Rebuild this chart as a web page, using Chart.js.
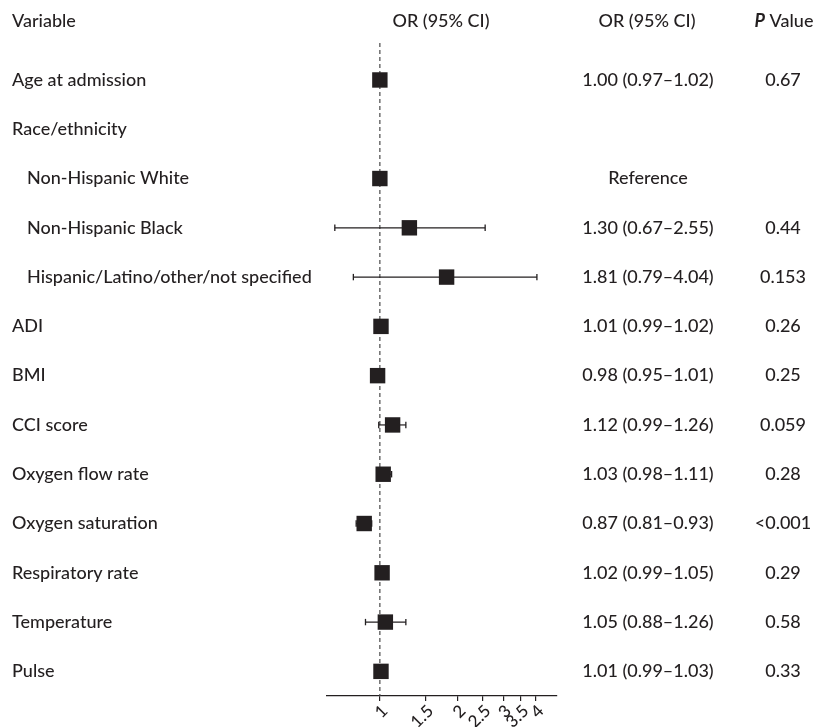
<!DOCTYPE html>
<html>
<head>
<meta charset="utf-8">
<script src="https://cdn.jsdelivr.net/npm/chart.js@4"></script>
<style>
  body { margin: 0; background: #fff; }
</style>
</head>
<body>
<canvas id="forest" width="815" height="727"></canvas>
<script>
// rows of the table, top to bottom
var rowLabels = ['Age at admission', 'Race/ethnicity', 'Non-Hispanic White', 'Non-Hispanic Black',
  'Hispanic/Latino/other/not specified', 'ADI', 'BMI', 'CCI score', 'Oxygen flow rate',
  'Oxygen saturation', 'Respiratory rate', 'Temperature', 'Pulse'];
var rowIndent = [0, 0, 1, 1, 1, 0, 0, 0, 0, 0, 0, 0, 0];
var oddsRatio = [1.00, null, 1.00, 1.30, 1.81, 1.01, 0.98, 1.12, 1.03, 0.87, 1.02, 1.05, 1.01];
var ciLow = [0.97, null, null, 0.67, 0.79, 0.99, 0.95, 0.99, 0.98, 0.81, 0.99, 0.88, 0.99];
var ciHigh = [1.02, null, null, 2.55, 4.04, 1.02, 1.01, 1.26, 1.11, 0.93, 1.05, 1.26, 1.03];
var orText = ['1.00 (0.97\u20131.02)', '', 'Reference', '1.30 (0.67\u20132.55)', '1.81 (0.79\u20134.04)',
  '1.01 (0.99\u20131.02)', '0.98 (0.95\u20131.01)', '1.12 (0.99\u20131.26)', '1.03 (0.98\u20131.11)',
  '0.87 (0.81\u20130.93)', '1.02 (0.99\u20131.05)', '1.05 (0.88\u20131.26)', '1.01 (0.99\u20131.03)'];
var pText = ['0.67', '', '', '0.44', '0.153', '0.26', '0.25', '0.059', '0.28', '<0.001', '0.29', '0.58', '0.33'];
var xTicks = [1, 1.5, 2, 2.5, 3, 3.5, 4];
var xTickLabels = ['1', '1.5', '2', '2.5', '3', '3.5', '4'];

var ink = '#231f20';
var fontFam = 'Lato, sans-serif';
var txt = '500 18px ' + fontFam;

// squares
var points = [];
oddsRatio.forEach(function (v, i) {
  if (v !== null) points.push({ x: v, y: i });
});

var datasets = [{
  data: points,
  pointStyle: 'rect',
  pointRadius: 10.9,
  backgroundColor: ink,
  borderColor: ink,
  borderWidth: 0,
  showLine: false
}];

// confidence interval whiskers, one per row
ciLow.forEach(function (lo, i) {
  if (lo === null) return;
  datasets.push({
    data: [{ x: lo, y: i }, { x: ciHigh[i], y: i }],
    showLine: true,
    borderColor: ink,
    borderWidth: 1.2,
    pointStyle: 'line',
    pointRotation: 90,
    pointRadius: 3.2,
    pointBorderColor: ink,
    pointBorderWidth: 1.3
  });
});

// reference line at OR = 1
datasets.push({
  data: [{ x: 1, y: -0.75 }, { x: 1, y: 12.5 }],
  showLine: true,
  borderColor: '#4a4a4a',
  borderWidth: 1.2,
  borderDash: [4, 3],
  pointRadius: 0
});

var tablePlugin = {
  id: 'tableText',
  afterDraw: function (chart) {
    var ctx = chart.ctx;
    var y = chart.scales.y;
    var top = chart.chartArea.top - 22;
    ctx.save();
    ctx.fillStyle = ink;
    ctx.textBaseline = 'middle';
    ctx.font = txt;

    ctx.textAlign = 'left';
    ctx.fillText('Variable', 12, top);
    ctx.textAlign = 'center';
    ctx.fillText('OR (95% CI)', 441, top);
    ctx.fillText('OR (95% CI)', 647, top);

    // "P Value" header with italic P
    ctx.textAlign = 'left';
    ctx.font = 'italic 700 18px ' + fontFam;
    var pw = ctx.measureText('P').width;
    ctx.font = txt;
    var vw = ctx.measureText(' Value').width;
    var px = 784 - (pw + vw) / 2;
    ctx.font = 'italic 700 18px ' + fontFam;
    ctx.fillText('P', px, top);
    ctx.font = txt;
    ctx.fillText(' Value', px + pw, top);

    rowLabels.forEach(function (lab, i) {
      var py = y.getPixelForValue(i);
      ctx.textAlign = 'left';
      ctx.fillText(lab, rowIndent[i] ? 27 : 12, py);
      ctx.textAlign = 'center';
      ctx.fillText(orText[i], 648, py);
      ctx.fillText(pText[i], 783, py);
    });
    ctx.restore();
  }
};

new Chart(document.getElementById('forest'), {
  type: 'scatter',
  data: { datasets: datasets },
  options: {
    responsive: false,
    animation: false,
    devicePixelRatio: 1,
    layout: { padding: { left: 327, right: 258, top: 43, bottom: 0 } },
    plugins: { legend: { display: false }, tooltip: { enabled: false } },
    scales: {
      x: {
        type: 'logarithmic',
        bounds: 'data',
        min: 0.625,
        max: 4.83,
        afterBuildTicks: function (scale) {
          scale.ticks = xTicks.map(function (v) { return { value: v }; });
          scale.min = 0.625;
          scale.max = 4.83;
        },
        afterFit: function (scale) { scale.height = 31; },
        border: { display: true, color: ink, width: 1.2 },
        grid: { drawOnChartArea: false, drawTicks: true, tickLength: 5, color: ink, lineWidth: 1.2 },
        ticks: {
          autoSkip: false,
          minRotation: 45,
          maxRotation: 45,
          padding: 0,
          labelOffset: 5,
          color: ink,
          font: { family: fontFam, size: 17, weight: '500' },
          callback: function (v, idx) { return xTickLabels[idx]; }
        }
      },
      y: {
        type: 'linear',
        display: false,
        reverse: true,
        min: -0.75,
        max: 12.5
      }
    }
  },
  plugins: [tablePlugin]
});
</script>
</body>
</html>
